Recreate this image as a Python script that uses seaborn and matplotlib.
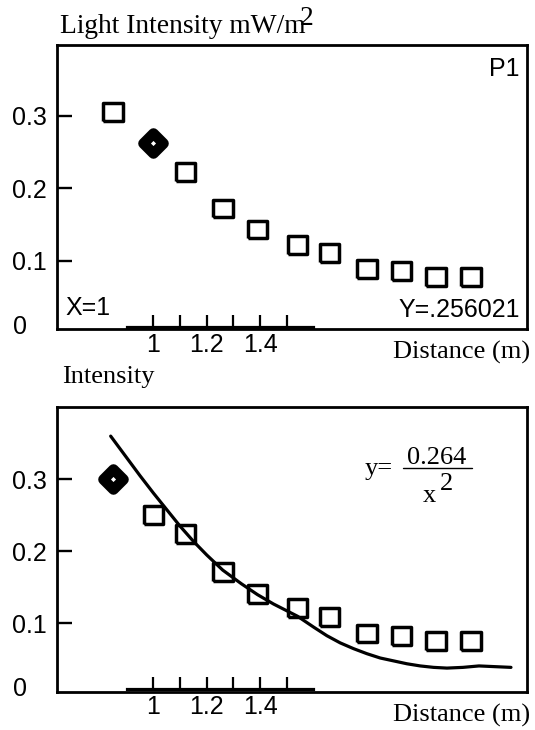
import matplotlib
matplotlib.use("Agg")
import matplotlib.pyplot as plt
import seaborn as sns
from matplotlib.markers import MarkerStyle
from matplotlib.lines import Line2D

sns.set_style("white")
plt.rcParams['font.family'] = ['Liberation Sans', 'DejaVu Sans']
plt.rcParams['text.color'] = 'black'
plt.rcParams['xtick.color'] = 'black'
plt.rcParams['ytick.color'] = 'black'
plt.rcParams['axes.edgecolor'] = 'black'

# Data
dist_top = [0.85, 1.0, 1.12, 1.26, 1.39, 1.54, 1.66, 1.80, 1.93, 2.06, 2.19]
inten_top = [0.305, 0.262, 0.223, 0.172, 0.143, 0.121, 0.110, 0.088, 0.085, 0.077, 0.077]
dist_bot = [0.85, 1.0, 1.12, 1.26, 1.39, 1.54, 1.66, 1.80, 1.93, 2.06, 2.19]
inten_bot = [0.300, 0.250, 0.224, 0.172, 0.141, 0.121, 0.109, 0.086, 0.083, 0.075, 0.075]
cursor_top = 1   # point under the trace cursor (diamond)
cursor_bot = 0

# fitted curve, as drawn
fit_x = [0.84, 0.90, 0.95, 1.00, 1.05, 1.10, 1.15, 1.20, 1.26, 1.33, 1.39, 1.45,
         1.54, 1.60, 1.65, 1.70, 1.75, 1.80, 1.85, 1.90, 1.95, 2.00, 2.05, 2.10,
         2.16, 2.22, 2.28, 2.34]
fit_y = [0.360, 0.330, 0.305, 0.281, 0.258, 0.235, 0.214, 0.195, 0.174, 0.155, 0.140, 0.127,
         0.110, 0.095, 0.083, 0.073, 0.065, 0.058, 0.052, 0.048, 0.044, 0.041, 0.039, 0.038,
         0.039, 0.041, 0.040, 0.039]

x_ticks = [1.0, 1.1, 1.2, 1.3, 1.4, 1.5]
x_tick_labels = ['1', '', '1.2', '', '1.4', '']
y_ticks = [0.1, 0.2, 0.3]
y_tick_labels = ['0.1', '0.2', '0.3']
ruler_y = 0.0087
ruler_span = (0.9, 1.6)

W, H = 535, 730
fig = plt.figure(figsize=(W / 100, H / 100), dpi=100)


def fx(px):
    return px / W


def fy(py):
    return 1 - py / H


ax1 = fig.add_axes([fx(57.3), fy(329.3), 469.7 / W, 284.3 / H])
ax2 = fig.add_axes([fx(57.3), fy(692.3), 469.7 / W, 285.0 / H])

rect = [(-1.1, -1), (1.1, -1), (1.1, 1), (-1.1, 1), (-1.1, -1)]
diamond = MarkerStyle('D', joinstyle='round')


def draw_points(ax, xs, ys, cur):
    sq_x = [x for i, x in enumerate(xs) if i != cur]
    sq_y = [y for i, y in enumerate(ys) if i != cur]
    sns.scatterplot(x=sq_x, y=sq_y, ax=ax, marker=rect, s=14.2 ** 2,
                    color='black', facecolors='none', edgecolor='black',
                    linewidth=2.5, zorder=4)
    sns.scatterplot(x=[xs[cur]], y=[ys[cur]], ax=ax, marker=diamond, s=10.2 ** 2,
                    color='black', facecolors='white', edgecolor='black',
                    linewidth=7.6, zorder=5)


def style_axes(ax, ylim):
    ax.set_xlim(0.64, 2.40)
    ax.set_ylim(*ylim)
    for s in ['left', 'top', 'right']:
        ax.spines[s].set_linewidth(2)
        ax.spines[s].set_color('black')
    ax.spines['bottom'].set_position(('data', ruler_y))
    ax.spines['bottom'].set_bounds(*ruler_span)
    ax.spines['bottom'].set_linewidth(2.3)
    ax.spines['bottom'].set_color('black')
    ax.add_line(Line2D([0, 1], [0, 0], transform=ax.transAxes, color='black',
                       lw=2, clip_on=False, solid_capstyle='projecting'))
    ax.set_yticks(y_ticks, y_tick_labels)
    ax.tick_params(axis='y', left=True, direction='in', length=11, width=1.7,
                   pad=32.5, labelsize=18)
    for t in ax.get_yticklabels():
        t.set_horizontalalignment('left')
    ax.set_xticks(x_ticks, x_tick_labels)
    ax.tick_params(axis='x', bottom=True, direction='in', length=9, width=1.6,
                   pad=4.5, labelsize=18)
    ax.text(-0.0943, ruler_y, '0', transform=ax.get_yaxis_transform(),
            ha='left', va='center', fontsize=18)
    ax.set_xlabel('')
    ax.set_ylabel('')


# top panel: trace
draw_points(ax1, dist_top, inten_top, cursor_top)
style_axes(ax1, (0.005, 0.398))
ax1.text(0.0164, 0.0503, 'X=1', transform=ax1.transAxes, fontsize=18, ha='left', va='baseline')
ax1.text(0.985, 0.0443, 'Y=.256021', transform=ax1.transAxes, fontsize=18, ha='right', va='baseline')
ax1.text(0.985, 0.891, 'P1', transform=ax1.transAxes, fontsize=18, ha='right', va='baseline')

# bottom panel: fit
sns.lineplot(x=fit_x, y=fit_y, ax=ax2, sort=False, estimator=None, color='black',
             linewidth=2.3, zorder=3)
draw_points(ax2, dist_bot, inten_bot, cursor_bot)
style_axes(ax2, (0.0044, 0.40))

serif = ['Liberation Serif', 'DejaVu Serif']
fig.text(fx(60), fy(33.3), 'Light Intensity mW/m', family=serif, fontsize=19.8, va='baseline')
fig.text(fx(300), fy(25), '2', family=serif, fontsize=19.8, va='baseline')
fig.text(fx(393.3), fy(358.3), 'Distance (m)', family=serif, fontsize=19, va='baseline')
fig.text(fx(61.7), fy(383.3), 'Intensity', family=serif, fontsize=19, va='baseline')
fig.text(fx(393.3), fy(721.3), 'Distance (m)', family=serif, fontsize=19, va='baseline')

# equation
fig.text(fx(365), fy(475), 'y=', family=serif, fontsize=19, va='baseline')
fig.text(fx(407), fy(464), '0.264', family=serif, fontsize=19, va='baseline')
fig.add_artist(Line2D([fx(402.7), fx(471.7)], [fy(468.3), fy(468.3)], color='black', lw=1))
fig.text(fx(422.7), fy(501.7), 'x', family=serif, fontsize=19, va='baseline')
fig.text(fx(440), fy(490), '2', family=serif, fontsize=19, va='baseline')

fig.savefig('out.png', dpi=100)
